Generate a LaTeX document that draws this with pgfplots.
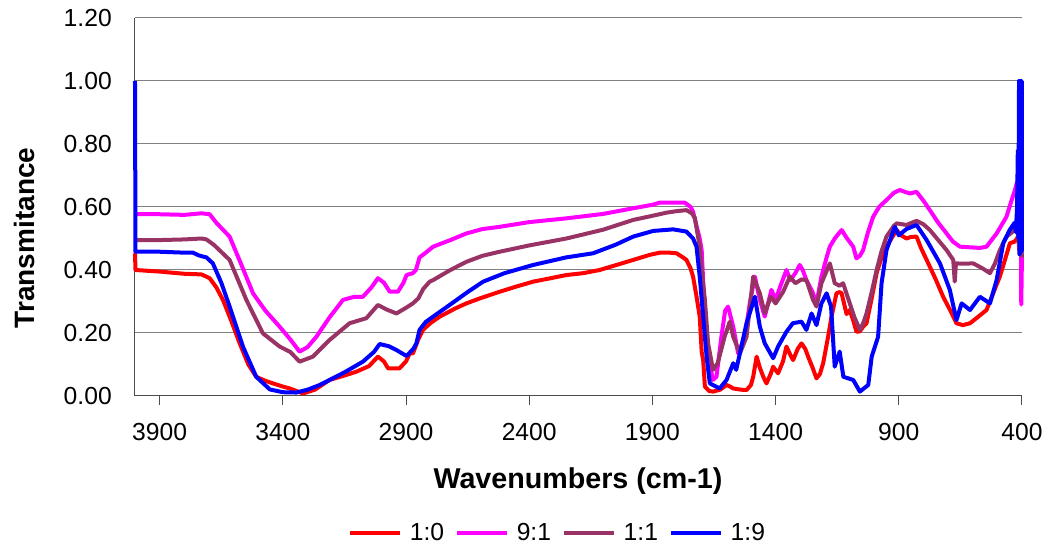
\documentclass[border=0pt]{standalone}
\usepackage{pgfplots}
\pgfplotsset{compat=1.18}
\usepackage{fontspec}
\setmainfont{Liberation Sans}
\definecolor{cred}{RGB}{255,0,0}
\definecolor{cpink}{RGB}{255,0,255}
\definecolor{cpurple}{RGB}{153,51,102}
\definecolor{cblue}{RGB}{0,0,255}
\definecolor{cgrid}{RGB}{128,128,128}
\begin{document}
\begin{tikzpicture}
\begin{axis}[
  scale only axis, width=665.25pt, height=283.5pt,
  xmin=400, xmax=4000, x dir=reverse,
  ymin=0, ymax=1.2,
  xtick={400,900,1400,1900,2400,2900,3400,3900},
  ytick={0,0.2,0.4,0.6,0.8,1.0,1.2},
  clip=false,
  axis line style={draw=none},
  tick align=inside,
  xtick align=outside,
  major tick length=6.5pt,
  xtick pos=bottom,
  ytick style={draw=none},
  xtick style={draw=black!70, line width=0.75pt},
  ymajorgrids, grid style={cgrid, line width=0.75pt},
  /pgf/number format/assume math mode=true,
  /pgf/number format/1000 sep={},
  yticklabel style={/pgf/number format/.cd, fixed, fixed zerofill, precision=2, /tikz/.cd, inner sep=0pt, xshift=-17.25pt, font=\fontsize{18.5}{22}\selectfont},
  xticklabel style={inner sep=0pt, yshift=-14pt, font=\fontsize{18.5}{22}\selectfont},
  legend columns=4,
  legend style={draw=none, fill=none, at={(0.4766,-0.3624)}, anchor=center,
    font=\fontsize{18.5}{22}\selectfont,
    /tikz/every even column/.append style={column sep=6pt},
    /tikz/every odd column/.append style={column sep=4pt}},
  legend image code/.code={\draw[#1] (0pt,0pt) -- (37.5pt,0pt);},
  every axis plot/.append style={line width=3pt, line join=round},
]
\draw[black!70, line width=0.75pt] (axis cs:4000,1.2) -- (axis cs:4000,0) -- (axis cs:400,0);

\addplot[cred] coordinates {
(4000,0.453)(3998,0.40)(3900,0.395)(3800,0.388)(3730,0.386)(3697,0.374)(3670,0.345)(3643,0.305)(3610,0.24)(3575,0.167)(3540,0.10)(3508,0.061)(3470,0.048)(3440,0.04)(3400,0.03)(3372,0.024)(3318,0.008)(3270,0.02)(3210,0.051)(3150,0.065)(3102,0.077)(3050,0.095)(3014,0.125)(2990,0.11)(2973,0.088)(2926,0.088)(2900,0.11)(2885,0.135)(2872,0.135)(2850,0.18)(2831,0.21)(2800,0.232)(2763,0.252)(2700,0.278)(2655,0.294)(2600,0.31)(2520,0.331)(2450,0.348)(2384,0.363)(2300,0.376)(2249,0.384)(2180,0.39)(2114,0.40)(2050,0.415)(1978,0.432)(1911,0.448)(1870,0.455)(1830,0.455)(1802,0.453)(1776,0.44)(1762,0.432)(1745,0.405)(1735,0.379)(1721,0.316)(1708,0.252)(1700,0.14)(1694,0.114)(1687,0.03)(1670,0.016)(1654,0.014)(1625,0.02)(1599,0.035)(1585,0.03)(1572,0.024)(1540,0.02)(1518,0.019)(1500,0.035)(1491,0.061)(1477,0.125)(1464,0.09)(1450,0.061)(1437,0.04)(1420,0.07)(1410,0.093)(1390,0.072)(1370,0.11)(1356,0.157)(1340,0.13)(1329,0.114)(1310,0.15)(1295,0.167)(1280,0.15)(1268,0.125)(1250,0.09)(1234,0.056)(1220,0.07)(1207,0.104)(1187,0.188)(1173,0.252)(1153,0.326)(1140,0.33)(1132,0.326)(1112,0.26)(1099,0.273)(1085,0.24)(1072,0.204)(1058,0.205)(1045,0.22)(1031,0.231)(1010,0.31)(990,0.39)(970,0.44)(950,0.474)(930,0.50)(909,0.527)(890,0.51)(869,0.50)(850,0.505)(828,0.506)(810,0.47)(787,0.432)(750,0.37)(720,0.315)(690,0.27)(666,0.231)(640,0.225)(611,0.231)(580,0.25)(544,0.273)(520,0.32)(490,0.379)(470,0.43)(449,0.485)(430,0.49)(420,0.50)(410,0.52)(405,0.47)(400,0.44)
};
\addlegendentry{1:0}

\addplot[cpink] coordinates {
(4000,0.577)(3900,0.577)(3800,0.575)(3730,0.58)(3697,0.577)(3670,0.55)(3616,0.506)(3570,0.42)(3521,0.326)(3470,0.27)(3413,0.22)(3370,0.18)(3332,0.141)(3300,0.155)(3264,0.188)(3210,0.25)(3156,0.305)(3110,0.315)(3075,0.315)(3040,0.345)(3014,0.374)(2990,0.36)(2966,0.331)(2933,0.331)(2910,0.36)(2898,0.384)(2872,0.39)(2860,0.40)(2845,0.44)(2820,0.455)(2790,0.474)(2720,0.495)(2655,0.516)(2590,0.53)(2520,0.537)(2400,0.552)(2249,0.564)(2100,0.578)(1978,0.596)(1900,0.607)(1870,0.614)(1800,0.614)(1769,0.614)(1745,0.60)(1735,0.585)(1721,0.54)(1708,0.50)(1700,0.463)(1687,0.252)(1674,0.125)(1654,0.051)(1640,0.061)(1620,0.188)(1605,0.27)(1593,0.284)(1572,0.22)(1552,0.135)(1525,0.188)(1505,0.294)(1484,0.379)(1464,0.305)(1444,0.252)(1417,0.337)(1400,0.305)(1380,0.35)(1356,0.40)(1340,0.368)(1320,0.39)(1302,0.416)(1290,0.40)(1275,0.368)(1250,0.33)(1234,0.294)(1214,0.379)(1193,0.44)(1180,0.474)(1160,0.50)(1132,0.527)(1110,0.50)(1085,0.474)(1072,0.437)(1058,0.445)(1045,0.463)(1025,0.52)(1004,0.569)(980,0.60)(950,0.622)(920,0.645)(896,0.654)(875,0.648)(855,0.643)(828,0.648)(800,0.62)(774,0.59)(740,0.55)(706,0.516)(680,0.49)(652,0.474)(610,0.472)(571,0.47)(544,0.474)(503,0.516)(463,0.569)(442,0.622)(430,0.65)(420,0.68)(415,0.60)(410,0.55)(405,0.70)(403,0.29)(400,0.45)
};
\addlegendentry{9:1}

\addplot[cpurple] coordinates {
(4000,0.495)(3900,0.495)(3800,0.497)(3730,0.50)(3710,0.497)(3680,0.48)(3616,0.432)(3548,0.305)(3481,0.199)(3413,0.157)(3370,0.14)(3332,0.109)(3278,0.125)(3210,0.178)(3129,0.231)(3061,0.247)(3014,0.289)(2980,0.275)(2939,0.262)(2900,0.28)(2872,0.294)(2850,0.31)(2830,0.34)(2804,0.363)(2790,0.368)(2720,0.40)(2655,0.426)(2590,0.445)(2520,0.458)(2400,0.478)(2249,0.50)(2100,0.528)(1978,0.559)(1900,0.572)(1843,0.582)(1800,0.587)(1762,0.59)(1740,0.58)(1728,0.566)(1708,0.474)(1700,0.40)(1687,0.305)(1674,0.167)(1654,0.083)(1635,0.104)(1607,0.188)(1586,0.236)(1572,0.188)(1545,0.135)(1518,0.188)(1491,0.379)(1464,0.326)(1444,0.262)(1420,0.315)(1400,0.294)(1370,0.33)(1342,0.379)(1320,0.358)(1295,0.37)(1275,0.368)(1248,0.305)(1234,0.284)(1214,0.358)(1180,0.421)(1160,0.358)(1140,0.35)(1126,0.358)(1110,0.32)(1099,0.294)(1080,0.25)(1058,0.21)(1045,0.23)(1031,0.262)(1010,0.33)(990,0.40)(970,0.46)(950,0.506)(920,0.54)(909,0.548)(869,0.543)(828,0.556)(800,0.545)(774,0.527)(740,0.495)(706,0.463)(679,0.432)(673,0.363)(668,0.421)(640,0.42)(598,0.421)(560,0.405)(530,0.39)(510,0.42)(490,0.463)(463,0.506)(440,0.52)(420,0.55)(410,0.45)(405,0.50)(400,0.44)
};
\addlegendentry{1:1}

\addplot[cblue] coordinates {
(4000,1.00)(3998,0.458)(3900,0.458)(3800,0.455)(3765,0.455)(3740,0.446)(3710,0.44)(3684,0.421)(3650,0.36)(3616,0.284)(3562,0.157)(3508,0.061)(3453,0.021)(3400,0.012)(3345,0.011)(3300,0.02)(3250,0.035)(3210,0.051)(3150,0.075)(3075,0.109)(3030,0.14)(3007,0.165)(2970,0.158)(2939,0.146)(2898,0.127)(2870,0.15)(2858,0.167)(2845,0.21)(2820,0.235)(2790,0.252)(2723,0.289)(2650,0.33)(2587,0.363)(2500,0.39)(2384,0.416)(2250,0.44)(2141,0.453)(2050,0.48)(1978,0.506)(1897,0.524)(1816,0.529)(1762,0.522)(1735,0.50)(1721,0.474)(1708,0.379)(1694,0.252)(1680,0.125)(1667,0.04)(1627,0.024)(1599,0.051)(1572,0.104)(1560,0.083)(1545,0.135)(1518,0.231)(1484,0.315)(1464,0.22)(1444,0.167)(1410,0.12)(1390,0.157)(1356,0.204)(1330,0.231)(1295,0.236)(1275,0.21)(1254,0.262)(1234,0.225)(1214,0.294)(1193,0.326)(1175,0.284)(1160,0.093)(1140,0.141)(1125,0.061)(1085,0.051)(1058,0.014)(1024,0.035)(1010,0.125)(984,0.188)(970,0.358)(950,0.463)(916,0.537)(900,0.51)(869,0.53)(828,0.543)(787,0.495)(733,0.421)(693,0.337)(666,0.241)(645,0.294)(611,0.273)(571,0.315)(530,0.294)(503,0.368)(476,0.485)(450,0.527)(430,0.55)(425,0.52)(420,0.60)(417,0.78)(415,0.50)(412,1.00)(410,0.45)(407,1.00)(405,0.50)(403,1.00)(401,0.46)(400,1.00)
};
\addlegendentry{1:9}

\node[rotate=90, font=\bfseries\fontsize{21}{25}\selectfont] at (axis description cs:-0.125,0.418) {Transmitance};
\node[anchor=base, font=\bfseries\fontsize{21.5}{25}\selectfont] at (axis description cs:0.4994,-0.246) {Wavenumbers (cm-1)};
\path (axis description cs:-0.1522,-0.3942) rectangle (axis description cs:1.0327,1.0476);
\end{axis}
\end{tikzpicture}
\end{document}
